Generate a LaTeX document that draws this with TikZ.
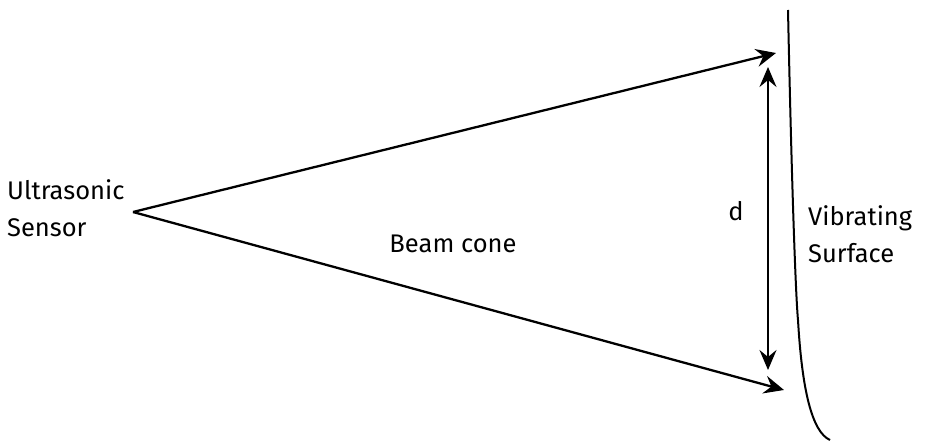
\documentclass[tikz,border=0pt]{standalone}
\usepackage{fontspec}
\setmainfont{Fira Sans}
\usetikzlibrary{arrows.meta}
\begin{document}
\begin{tikzpicture}[x=1pt,y=-1pt,
  lbl/.style={font=\fontsize{25.5}{37}\selectfont, inner sep=0pt, align=left},
  beam/.style={line width=2.3pt, -{Stealth[length=20pt,width=18pt,inset=7pt]}},
  dim/.style={line width=2.3pt, {Stealth[length=20pt,width=17pt,inset=7pt]}-{Stealth[length=20pt,width=17pt,inset=7pt]}},
  surf/.style={line width=2pt}]
\useasboundingbox (0,0) rectangle (926,441);
\coordinate (apex) at (133,212);
\coordinate (topT) at (776,53);
\coordinate (botT) at (784,390);
\coordinate (dtop) at (768,67);
\coordinate (dbot) at (768,370);
\coordinate (s0) at (788,10);
\coordinate (s1) at (798,320);
\coordinate (s2) at (830,440);
\draw[beam] (apex) -- (topT);
\draw[beam] (apex) -- (botT);
\draw[dim] (dtop) -- (dbot);
\draw[surf] (s0) .. controls (792,200) and (796,300) .. (s1) .. controls (802,390) and (812,432) .. (s2);
\node[lbl, anchor=base west] (us) at (7,236) {Ultrasonic\\Sensor};
\node[lbl, anchor=base] (bc) at (453,252) {Beam cone};
\node[lbl, anchor=base] (d) at (736,220) {d};
\node[lbl, anchor=base west] (vs) at (808,262) {Vibrating\\Surface};
\end{tikzpicture}
\end{document}
